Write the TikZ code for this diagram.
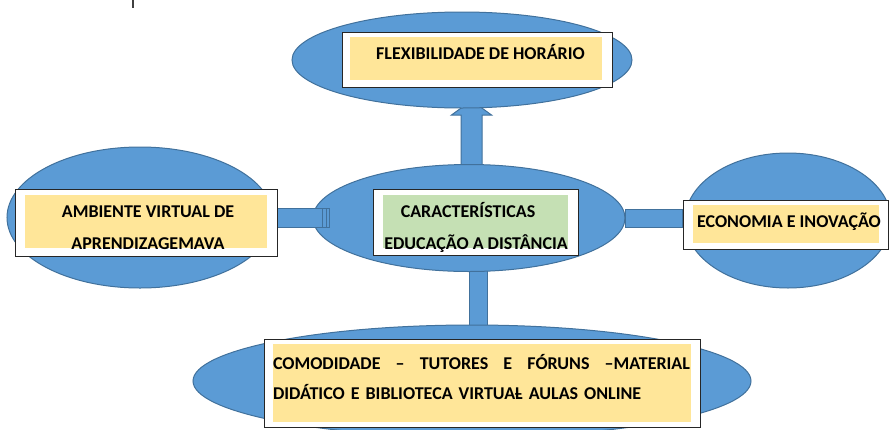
\documentclass[tikz,border=0pt]{standalone}
\usepackage{fontspec}
\setmainfont{Carlito}
\usetikzlibrary{positioning,calc,shapes.geometric,backgrounds}
\definecolor{bubfill}{HTML}{5B9BD5}
\definecolor{bubedge}{HTML}{41719C}
\definecolor{padyel}{HTML}{FFE699}
\definecolor{padgrn}{HTML}{C5E0B4}
\tikzset{bubble/.style 2 args={ellipse, draw=bubedge, fill=bubfill, line width=0.75pt, inner sep=0pt, minimum width=#1*0.75pt, minimum height=#2*0.75pt}}
\tikzset{frame/.style 2 args={rectangle, draw=black!85, fill=white, line width=0.75pt, inner sep=0pt, minimum width=#1*0.75pt, minimum height=#2*0.75pt}}
\tikzset{pad/.style n args={3}{rectangle, fill=#1, inner sep=0pt, minimum width=#2*0.75pt, minimum height=#3*0.75pt}}
\tikzset{lbl/.style={font=\fontsize{13.5}{24}\selectfont\bfseries, inner sep=0pt, align=center}}
\tikzset{linkbar/.style={draw=bubedge, fill=bubfill, line width=0.75pt}}

\begin{document}
\begin{tikzpicture}[x=0.75pt,y=-0.75pt]
			\useasboundingbox (0,0) rectangle (889,429);
			\draw[black!75, line width=0.9pt] (133,0) -- (133,8);
%
			\node[bubble={340}{96}] (flexE) at (462,60) {};
			\node[bubble={312}{107}] (cen) at (469,218) {};
			\node[bubble={266}{141}] (avaE) at (140,217.5) {};
			\node[bubble={206}{135}] (ecoE) at (788,220.5) {};
			\node[bubble={558}{112}] (bot) at (472,381) {};
%
			\begin{scope}[on background layer]
			\coordinate (upA) at ($(cen.north)+(2.5,2)$);
			\coordinate (upT) at ($(flexE.south)+(9.5,-8)$);
			\draw[linkbar] ($(upA)+(-10.5,0)$) -- ($(upA)+(-10.5,-51)$) -- ($(upA)+(-20,-51)$)
                -- (upT) -- ($(upA)+(20,-51)$) -- ($(upA)+(10.5,-51)$) -- ($(upA)+(10.5,0)$) -- cycle;
			\draw[linkbar] ($(cen.south)+(0,-3)$) rectangle ($(bot.north)+(15,3)$);
			\end{scope}
%
			\draw[linkbar] ($(avaE.east)+(4,-9.5)$) rectangle ($(cen.west)+(17,9)$);
			\draw[bubedge, line width=0.75pt] ($(cen.west)+(10,-9)$) -- ($(cen.west)+(10,9)$);
			\draw[bubedge, line width=0.75pt] ($(cen.west)+(13.5,-9)$) -- ($(cen.west)+(13.5,9)$);
			\draw[linkbar] ($(cen.east)+(0,-9)$) rectangle ($(ecoE.west)+(-2,6.5)$);
%
			% top
			\node[frame={270}{55}] (flexBox) at (477,59.5) {};
			\node[pad={padyel}{252}{43}] (flexPad) at (476,58.5) {};
			\node[lbl, anchor=base] (flexTxt) at (480.5,59.5) {FLEXIBILIDADE DE HORÁRIO};
			% centre
			\node[frame={205}{66}] (cenBox) at (475.5,222) {};
			\node[pad={padgrn}{185}{53}] (cenPad) at (475.5,221.5) {};
			\node[lbl] (cenTxt) at (476,227) {CARACTERÍSTICAS\hspace*{12pt}\\EDUCAÇÃO A DISTÂNCIA};
			% left
			\node[frame={262}{67}] (avaBox) at (146,222.5) {};
			\node[pad={padyel}{242}{53}] (avaPad) at (146,221.5) {};
			\node[lbl] (avaTxt) at (148,228) {AMBIENTE VIRTUAL DE\\APRENDIZAGEMAVA};
			% right
			\node[frame={205}{49}] (ecoBox) at (785.5,224.5) {};
			\node[pad={padyel}{186}{38}] (ecoPad) at (786,224) {};
			\node[lbl, anchor=base] (ecoTxt) at (789,227) {ECONOMIA E INOVAÇÃO};
			% bottom
			\node[frame={436}{88}] (comBox) at (482,383) {};
			\node[pad={padyel}{418}{78}] (comPad) at (482,383) {};
			\node[lbl, align=left, text width=312.75pt, font=\fontsize{13.5}{22.5}\selectfont\bfseries] (comTxt) at (481.5,377)
                {\hbox to 312.75pt{COMODIDADE\hfill–\hfill TUTORES\hfill E\hfill FÓRUNS\hfill–MATERIAL}\\DIDÁTICO E BIBLIOTECA VIRTUAL\llap{–} AULAS ONLINE};
		\end{tikzpicture}
\end{document}
